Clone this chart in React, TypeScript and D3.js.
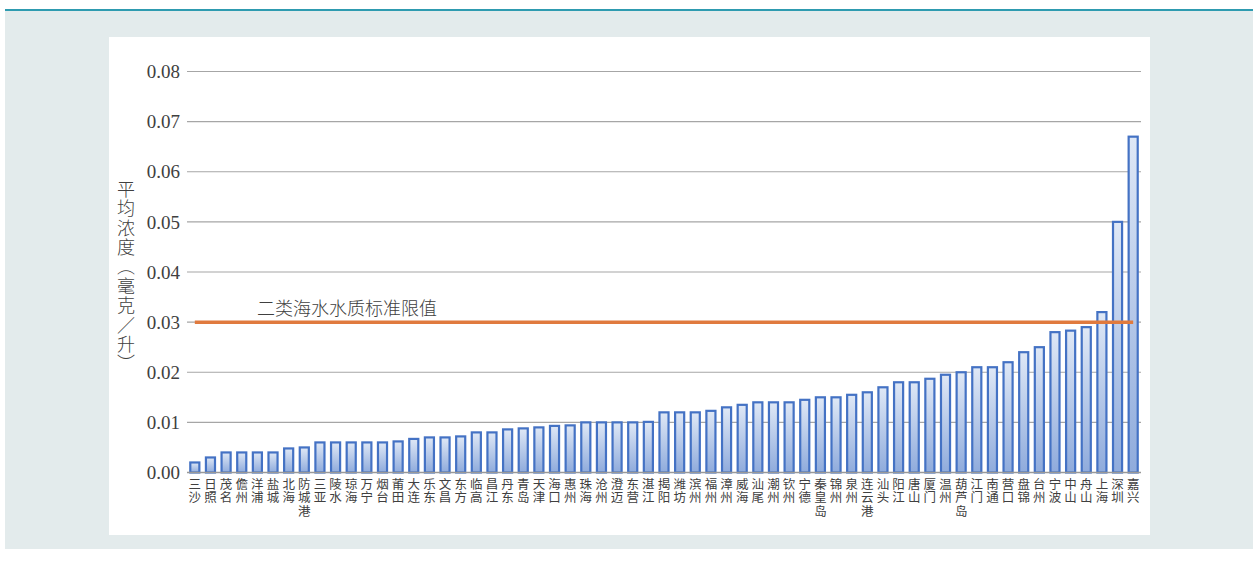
import { useEffect, useRef } from 'react';
import * as d3 from 'd3';

// 城市（纵向排列的标签，每个字一行）
const cities = [
  '三沙', '日照', '茂名', '儋州', '洋浦', '盐城', '北海', '防城港', '三亚', '陵水',
  '琼海', '万宁', '烟台', '莆田', '大连', '乐东', '文昌', '东方', '临高', '昌江',
  '丹东', '青岛', '天津', '海口', '惠州', '珠海', '沧州', '澄迈', '东营', '湛江',
  '揭阳', '潍坊', '滨州', '福州', '漳州', '威海', '汕尾', '潮州', '钦州', '宁德',
  '秦皇岛', '锦州', '泉州', '连云港', '汕头', '阳江', '唐山', '厦门', '温州', '葫芦岛',
  '江门', '南通', '营口', '盘锦', '台州', '宁波', '中山', '舟山', '上海', '深圳', '嘉兴',
];

const concentration = [
  0.002, 0.003, 0.004, 0.004, 0.004, 0.004, 0.0048, 0.005, 0.006, 0.006,
  0.006, 0.006, 0.006, 0.0062, 0.0067, 0.007, 0.007, 0.0072, 0.008, 0.008,
  0.0086, 0.0088, 0.009, 0.0093, 0.0094, 0.01, 0.01, 0.01, 0.01, 0.0101,
  0.012, 0.012, 0.012, 0.0123, 0.013, 0.0135, 0.014, 0.014, 0.014, 0.0145,
  0.015, 0.015, 0.0155, 0.016, 0.017, 0.018, 0.018, 0.0187, 0.0195, 0.02,
  0.021, 0.021, 0.022, 0.024, 0.025, 0.028, 0.0283, 0.029, 0.032, 0.05, 0.067,
];

const yTicks = [0, 0.01, 0.02, 0.03, 0.04, 0.05, 0.06, 0.07, 0.08];
const standardValue = 0.03;
const standardLabel = '二类海水水质标准限值';
const yTitle = '平均浓度（毫克／升）';

const W = 1258;
const H = 562;
const CJK = '"Noto Sans CJK SC", sans-serif';
const SERIF = '"Times New Roman", "Liberation Serif", "DejaVu Serif", serif';

export default function App() {
  const ref = useRef<SVGSVGElement>(null);

  useEffect(() => {
    const svg = d3.select(ref.current);
    svg.selectAll('*').remove();

    const defs = svg.append('defs');
    const grad = defs
      .append('linearGradient')
      .attr('id', 'barFill')
      .attr('x1', 0)
      .attr('y1', 0)
      .attr('x2', 0)
      .attr('y2', 1);
    grad.append('stop').attr('offset', '0%').attr('stop-color', '#dfe8f6');
    grad.append('stop').attr('offset', '100%').attr('stop-color', '#8fabdc');

    // outer panel
    svg.append('rect').attr('x', 5).attr('y', 9).attr('width', 1248).attr('height', 540).attr('fill', '#e3ebec');
    svg.append('rect').attr('x', 5).attr('y', 9).attr('width', 1248).attr('height', 2).attr('fill', '#2e9bb0');
    svg.append('rect').attr('x', 109).attr('y', 37).attr('width', 1041).attr('height', 498).attr('fill', '#ffffff');

    const x = d3.scaleBand<string>().domain(cities).range([187, 1141]).paddingInner(0.42).paddingOuter(0.21);
    const y = d3.scaleLinear().domain([0, 0.08]).range([472.5, 71.5]);

    // gridlines
    svg
      .append('g')
      .selectAll('line')
      .data(yTicks.slice(1))
      .join('line')
      .attr('x1', 187)
      .attr('x2', 1141)
      .attr('y1', (d) => y(d))
      .attr('y2', (d) => y(d))
      .attr('stroke', '#a6a6a6')
      .attr('stroke-width', 1.2);

    // tick labels
    svg
      .append('g')
      .attr('fill', '#404040')
      .attr('text-anchor', 'end')
      .selectAll('text')
      .data(yTicks)
      .join('text')
      .style('font-family', SERIF)
      .style('font-size', '19px')
      .attr('x', 180)
      .attr('y', (d) => y(d))
      .attr('dy', '0.35em')
      .text((d) => d3.format('.2f')(d));

    // bars
    svg
      .append('g')
      .selectAll('rect')
      .data(concentration)
      .join('rect')
      .attr('x', (_, i) => x(cities[i])!)
      .attr('y', (d) => y(d))
      .attr('width', x.bandwidth())
      .attr('height', (d) => y(0) - y(d))
      .attr('fill', 'url(#barFill)')
      .attr('stroke', '#4472c4')
      .attr('stroke-width', 2.2);

    // x axis line
    svg
      .append('line')
      .attr('x1', 187)
      .attr('x2', 1141)
      .attr('y1', y(0))
      .attr('y2', y(0))
      .attr('stroke', '#999999')
      .attr('stroke-width', 1.4);

    // standard line
    const line = d3
      .line<string>()
      .x((c) => x(c)! + x.bandwidth() / 2)
      .y(() => y(standardValue));
    svg
      .append('path')
      .datum(cities)
      .attr('d', line)
      .attr('fill', 'none')
      .attr('stroke', '#e07a3e')
      .attr('stroke-width', 3.5);

    svg
      .append('text')
      .attr('x', 257)
      .attr('y', y(standardValue) - 7)
      .style('font-family', CJK)
      .style('font-size', '18px')
      .attr('font-weight', 300)
      .attr('fill', '#404040')
      .text(standardLabel);

    // category labels: one text per character, stacked
    const chars = cities.flatMap((c) =>
      Array.from(c).map((ch, i) => ({ city: c, ch, i }))
    );
    svg
      .append('g')
      .attr('fill', '#404040')
      .attr('text-anchor', 'middle')
      .selectAll('text')
      .data(chars)
      .join('text')
      .style('font-family', CJK)
      .style('font-size', '12.5px')
      .attr('x', (d) => x(d.city)! + x.bandwidth() / 2)
      .attr('y', (d) => 489 + d.i * 13.3)
      .text((d) => d.ch);

    // y-axis title (vertical)
    svg
      .append('text')
      .attr('x', 126)
      .attr('y', 180)
      .style('font-family', CJK)
      .style('font-size', '18px')
      .style('writing-mode', 'vertical-rl')
      .style('letter-spacing', '1.4px')
      .attr('font-weight', 300)
      .attr('fill', '#404040')
      .text(yTitle);
  }, []);

  return (
    <svg
      ref={ref}
      width={W}
      height={H}
      viewBox={`0 0 ${W} ${H}`}
      style={{ position: 'absolute', left: 0, top: 0, background: '#ffffff' }}
    />
  );
}
